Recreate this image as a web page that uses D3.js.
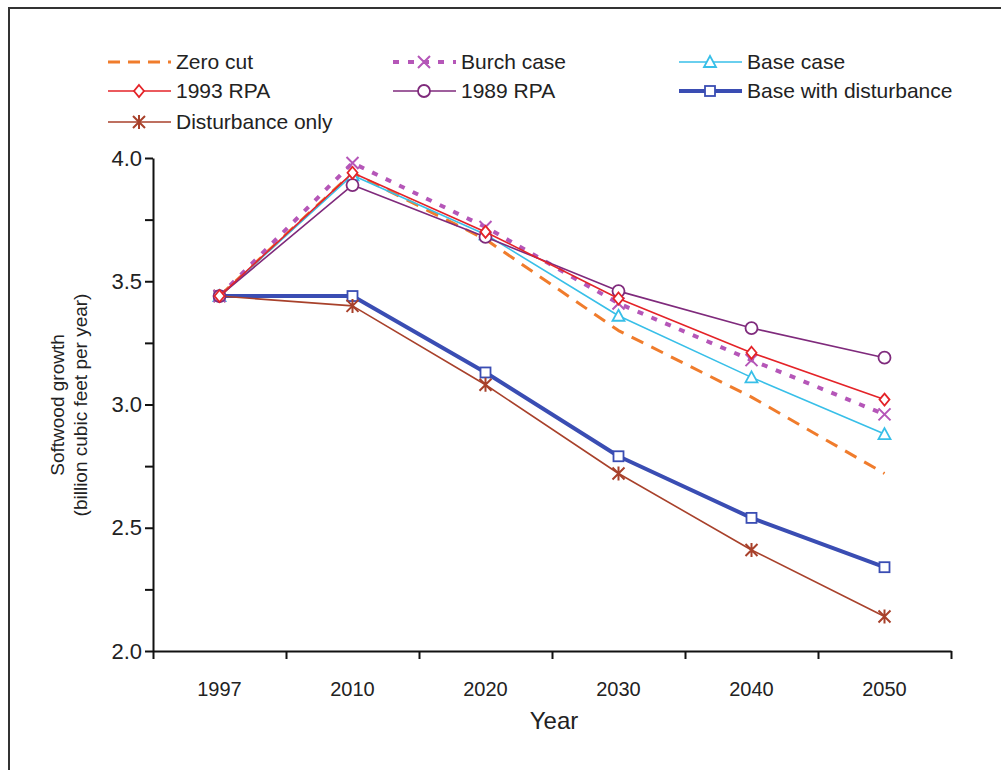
<!DOCTYPE html>
<html>
<head>
<meta charset="utf-8">
<script src="https://cdn.jsdelivr.net/npm/d3@7"></script>
<style>
  body { margin: 0; background: #fff; }
  svg { font-family: "Liberation Sans", Arial, sans-serif; }
</style>
</head>
<body>
<div id="chart"></div>
<script>
// --- Data ---
const years = ["1997", "2010", "2020", "2030", "2040", "2050"];

const zeroCut            = [3.44, 3.94, 3.67, 3.30, 3.03, 2.72];
const burchCase          = [3.44, 3.98, 3.72, 3.41, 3.18, 2.96];
const baseCase           = [3.44, 3.93, 3.69, 3.36, 3.11, 2.88];
const rpa1993            = [3.44, 3.94, 3.70, 3.43, 3.21, 3.02];
const rpa1989            = [3.44, 3.89, 3.68, 3.46, 3.31, 3.19];
const baseWithDisturb    = [3.44, 3.44, 3.13, 2.79, 2.54, 2.34];
const disturbanceOnly    = [3.44, 3.40, 3.08, 2.72, 2.41, 2.14];

const yTicks = [2.0, 2.25, 2.5, 2.75, 3.0, 3.25, 3.5, 3.75, 4.0];

// --- Series styling ---
const series = [
  { name: "Zero cut",             values: zeroCut,         color: "#f07c2c", width: 3,   dash: "13,9",  marker: null },
  { name: "Burch case",           values: burchCase,       color: "#b556b8", width: 4,   dash: "6,9",   marker: "x" },
  { name: "Base case",            values: baseCase,        color: "#38bfe8", width: 1.6, dash: null,    marker: "triangle" },
  { name: "1993 RPA",             values: rpa1993,         color: "#e42328", width: 1.6, dash: null,    marker: "diamond" },
  { name: "1989 RPA",             values: rpa1989,         color: "#7f2a7c", width: 1.6, dash: null,    marker: "circle" },
  { name: "Base with disturbance",values: baseWithDisturb, color: "#3a4db3", width: 4,   dash: null,    marker: "square" },
  { name: "Disturbance only",     values: disturbanceOnly, color: "#a8412b", width: 1.6, dash: null,    marker: "asterisk" }
];

// draw order: thick ones underneath
const drawOrder = ["Base with disturbance", "Disturbance only", "Zero cut", "Base case", "Burch case", "1989 RPA", "1993 RPA"];

const width = 1001, height = 770;
const svg = d3.select("#chart").append("svg")
  .attr("width", width)
  .attr("height", height);

// --- Frame ---
svg.append("path")
  .attr("d", `M9,${height} V8 H${width}`)
  .attr("fill", "none")
  .attr("stroke", "#333")
  .attr("stroke-width", 2);

// --- Scales ---
const x = d3.scaleBand().domain(years).range([153, 951]).padding(0);
const xIdx = d3.scaleLinear().domain([0, years.length]).range([153, 951]);
const y = d3.scaleLinear().domain([2, 4]).range([651, 158]);
const cx = d => x(d) + x.bandwidth() / 2;

// --- Axes ---
const xAxis = svg.append("g")
  .attr("transform", "translate(0,651)")
  .call(d3.axisBottom(xIdx).tickValues(d3.range(0, years.length + 1)).tickFormat("").tickSize(8).tickSizeOuter(0));
xAxis.select(".domain").attr("stroke", "#111").attr("stroke-width", 2);
xAxis.selectAll(".tick line").attr("stroke", "#111").attr("stroke-width", 2);

svg.append("g").selectAll("text")
  .data(years)
  .join("text")
  .attr("x", d => cx(d))
  .attr("y", 696)
  .attr("text-anchor", "middle")
  .attr("font-size", 20)
  .attr("fill", "#222")
  .text(d => d);

const yAxis = svg.append("g")
  .attr("transform", "translate(153,0)")
  .call(d3.axisLeft(y).tickValues(yTicks)
    .tickFormat(d => (Math.abs(d * 2 - Math.round(d * 2)) < 1e-9) ? d3.format(".1f")(d) : "")
    .tickSize(8).tickSizeOuter(0).tickPadding(3));
yAxis.select(".domain").attr("stroke", "#111").attr("stroke-width", 2);
yAxis.selectAll(".tick line").attr("stroke", "#111").attr("stroke-width", 2);
yAxis.selectAll(".tick text").attr("font-size", 22).attr("fill", "#222")
  .attr("font-family", "\"Liberation Sans\", Arial, sans-serif");

// --- Axis titles ---
svg.append("text")
  .attr("x", 554).attr("y", 729)
  .attr("text-anchor", "middle")
  .attr("font-size", 24)
  .attr("fill", "#222")
  .text("Year");

const yTitle = svg.append("text")
  .attr("transform", "translate(0,405) rotate(-90)")
  .attr("text-anchor", "middle")
  .attr("font-size", 19)
  .attr("fill", "#222");
yTitle.append("tspan").attr("x", 0).attr("y", 64).text("Softwood growth");
yTitle.append("tspan").attr("x", 0).attr("y", 87).text("(billion cubic feet per year)");

// --- Marker drawing ---
function drawMarker(g, type, px, py, color) {
  const s = 6;
  if (type === "circle") {
    g.append("circle").attr("cx", px).attr("cy", py).attr("r", 6)
      .attr("fill", "#fff").attr("stroke", color).attr("stroke-width", 1.8);
  } else if (type === "diamond") {
    g.append("path").attr("d", `M${px},${py - 6}L${px + 5},${py}L${px},${py + 6}L${px - 5},${py}Z`)
      .attr("fill", "#fff").attr("stroke", color).attr("stroke-width", 1.8);
  } else if (type === "triangle") {
    g.append("path").attr("d", `M${px},${py - 6}L${px + 6},${py + 5}L${px - 6},${py + 5}Z`)
      .attr("fill", "#fff").attr("stroke", color).attr("stroke-width", 1.8);
  } else if (type === "square") {
    g.append("rect").attr("x", px - 5).attr("y", py - 5).attr("width", 10).attr("height", 10)
      .attr("fill", "#fff").attr("stroke", color).attr("stroke-width", 1.8);
  } else if (type === "x") {
    g.append("path").attr("d", `M${px - s},${py - s}L${px + s},${py + s}M${px - s},${py + s}L${px + s},${py - s}`)
      .attr("stroke", color).attr("stroke-width", 2).attr("fill", "none");
  } else if (type === "asterisk") {
    g.append("path").attr("d", `M${px - s},${py - s}L${px + s},${py + s}M${px - s},${py + s}L${px + s},${py - s}M${px},${py - 7}L${px},${py + 7}`)
      .attr("stroke", color).attr("stroke-width", 2).attr("fill", "none");
  }
}

// --- Lines ---
const line = d3.line()
  .x((d, i) => cx(years[i]))
  .y(d => y(d));

const plot = svg.append("g");
drawOrder.forEach(name => {
  const s = series.find(e => e.name === name);
  const g = plot.append("g");
  g.append("path")
    .datum(s.values)
    .attr("d", line)
    .attr("fill", "none")
    .attr("stroke", s.color)
    .attr("stroke-width", s.width)
    .attr("stroke-dasharray", s.dash)
    .attr("stroke-linejoin", "round");
  if (s.marker) {
    s.values.forEach((v, i) => drawMarker(g, s.marker, cx(years[i]), y(v), s.color));
  }
});

// --- Legend ---
const legendCols = [108, 393, 679];
const legendRows = [62, 91, 122];
const legendItems = ["Zero cut", "Burch case", "Base case", "1993 RPA", "1989 RPA", "Base with disturbance", "Disturbance only"];

const legend = svg.append("g");
legendItems.forEach((name, i) => {
  const s = series.find(e => e.name === name);
  const lx = legendCols[i % 3];
  const ly = legendRows[Math.floor(i / 3)];
  const g = legend.append("g");
  g.append("line")
    .attr("x1", lx).attr("x2", lx + 63)
    .attr("y1", ly).attr("y2", ly)
    .attr("stroke", s.color)
    .attr("stroke-width", s.width)
    .attr("stroke-dasharray", s.dash === "13,9" ? "12,8" : s.dash);
  if (s.marker) drawMarker(g, s.marker, lx + 31, ly, s.color);
  g.append("text")
    .attr("x", lx + 68).attr("y", ly + 7)
    .attr("font-size", 21)
    .attr("fill", "#222")
    .text(name);
});
</script>
</body>
</html>
